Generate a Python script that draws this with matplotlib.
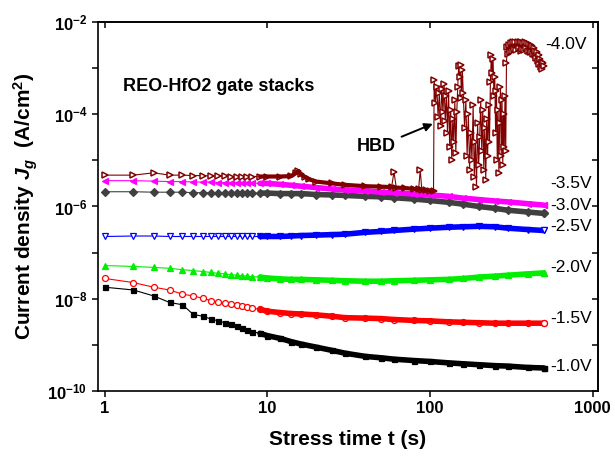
import numpy as np
import matplotlib
matplotlib.use('Agg')
import matplotlib.pyplot as plt
from matplotlib.ticker import NullLocator

plt.rcParams['font.family'] = ['Liberation Sans', 'DejaVu Sans']
plt.rcParams['mathtext.fontset'] = 'custom'
plt.rcParams['mathtext.rm'] = 'Liberation Sans:bold'
plt.rcParams['mathtext.bf'] = 'Liberation Sans:bold'
plt.rcParams['mathtext.it'] = 'Liberation Sans:italic:bold'
plt.rcParams['mathtext.default'] = 'bf'

# stress time (s), shared by the -1.0 .. -3.5 V curves
t = [1, 1.5, 2, 2.5, 3, 3.5, 4, 4.5, 5, 5.5, 6, 6.5, 7, 7.5, 8, 9, 10, 12, 14, 16,
     20, 25, 30, 40, 50, 60, 80, 100, 130, 160, 200, 250, 300, 400, 500]

# log10 of Jg (A/cm^2)
lg_10 = [-7.75, -7.81, -7.94, -8.08, -8.13, -8.34, -8.38, -8.44, -8.48, -8.52, -8.55, -8.59,
         -8.64, -8.68, -8.71, -8.75, -8.80, -8.86, -8.93, -8.98, -9.05, -9.12, -9.18, -9.25,
         -9.28, -9.31, -9.34, -9.36, -9.39, -9.41, -9.43, -9.45, -9.46, -9.49, -9.50]
lg_15 = [-7.56, -7.65, -7.75, -7.81, -7.90, -7.94, -7.99, -8.04, -8.08, -8.10, -8.11, -8.14,
         -8.16, -8.18, -8.20, -8.23, -8.27, -8.30, -8.32, -8.33, -8.35, -8.38, -8.41, -8.42,
         -8.43, -8.45, -8.47, -8.48, -8.50, -8.51, -8.52, -8.53, -8.53, -8.53, -8.53]
lg_20 = [-7.28, -7.30, -7.32, -7.34, -7.37, -7.39, -7.41, -7.43, -7.45, -7.46, -7.48, -7.49,
         -7.50, -7.51, -7.52, -7.53, -7.55, -7.57, -7.58, -7.58, -7.59, -7.60, -7.61, -7.62,
         -7.62, -7.61, -7.60, -7.59, -7.58, -7.56, -7.53, -7.51, -7.49, -7.46, -7.44]
lg_25 = [-6.65, -6.64, -6.64, -6.65, -6.65, -6.65, -6.65, -6.65, -6.65, -6.65, -6.65, -6.65,
         -6.65, -6.65, -6.65, -6.65, -6.65, -6.65, -6.64, -6.63, -6.62, -6.61, -6.60, -6.56,
         -6.54, -6.52, -6.49, -6.47, -6.45, -6.44, -6.43, -6.44, -6.47, -6.50, -6.52]
lg_30 = [-5.68, -5.68, -5.69, -5.69, -5.69, -5.70, -5.70, -5.70, -5.70, -5.70, -5.70, -5.71,
         -5.71, -5.71, -5.71, -5.71, -5.71, -5.72, -5.72, -5.72, -5.74, -5.75, -5.76, -5.78,
         -5.79, -5.81, -5.84, -5.87, -5.91, -5.95, -6.00, -6.04, -6.08, -6.12, -6.15]
lg_35 = [-5.44, -5.44, -5.45, -5.46, -5.46, -5.47, -5.47, -5.47, -5.48, -5.48, -5.48, -5.49,
         -5.49, -5.49, -5.49, -5.50, -5.50, -5.52, -5.54, -5.56, -5.59, -5.62, -5.64, -5.66,
         -5.69, -5.70, -5.73, -5.75, -5.78, -5.82, -5.85, -5.88, -5.90, -5.94, -5.97]

# -4.0 V: before hard breakdown
t_40a = [1, 1.5, 2, 2.5, 3, 3.5, 4, 4.5, 5, 5.5, 6, 6.5, 7, 7.5, 8, 9, 10, 12, 14, 15,
         15.5, 16, 17, 18, 20, 25, 30, 40, 50, 58, 60, 62, 70, 80, 85, 87, 89, 95, 100, 105]
lg_40a = [-5.32, -5.32, -5.27, -5.32, -5.32, -5.33, -5.33, -5.34, -5.34, -5.34, -5.35, -5.35,
          -5.35, -5.35, -5.35, -5.35, -5.35, -5.35, -5.34, -5.27, -5.23, -5.30, -5.36, -5.41,
          -5.46, -5.50, -5.53, -5.56, -5.57, -5.58, -5.25, -5.59, -5.60, -5.62, -5.63, -5.21,
          -5.64, -5.65, -5.66, -5.67]
# -4.0 V: after hard breakdown (noisy)
t_40b = [106, 108, 110, 112, 114, 116, 118, 120, 122, 124,
         126, 128, 130, 132, 134, 136, 138, 140, 142, 144, 146,
         148, 150, 152, 154, 156, 158, 160,
         163, 166, 169, 172, 175, 178, 181, 184, 187, 190, 193, 196, 199, 202,
         205, 208, 211, 214, 217, 220, 223, 226, 229, 232,
         235, 238, 241, 244, 247, 250,
         253, 256, 259, 262, 265, 268, 271, 274, 277, 280, 283, 286, 289,
         292, 295, 298, 301,
         305, 310, 315, 320, 325, 330, 335, 340, 345, 350, 355, 360, 365, 370,
         375, 380, 385, 390, 395, 400, 405, 410, 415, 420, 425, 430, 435, 440,
         445, 450, 455, 460, 465, 470, 475, 480, 485, 490, 495, 500]
lg_40b = [-3.26, -3.75, -3.40, -4.05, -3.55, -4.25, -3.45, -3.95, -3.35, -4.15,
          -3.60, -4.40, -3.50, -4.70, -3.90, -4.99, -4.10, -4.60, -3.70, -4.85, -3.95,
          -3.40, -2.95, -3.20, -2.93, -3.65, -3.05, -3.55,
          -4.30, -3.70, -4.90, -4.00, -5.20, -4.40, -5.00, -3.80, -5.35, -4.60, -5.58,
          -4.20, -5.10, -4.50,
          -3.70, -4.80, -3.90, -5.20, -4.30, -5.43, -4.10, -4.90, -3.80, -4.60,
          -3.30, -2.72, -3.10, -2.80, -3.60, -3.20,
          -4.40, -3.50, -5.00, -3.90, -5.27, -4.20, -3.40, -4.90, -3.70, -5.10, -4.00,
          -4.70, -3.60,
          -4.80, -2.89, -2.55, -2.70,
          -2.50, -2.65, -2.45, -2.62, -2.43, -2.58, -2.44, -2.60, -2.43, -2.57, -2.44,
          -2.62, -2.43, -2.58, -2.45, -2.60, -2.44, -2.57, -2.46, -2.62, -2.47, -2.64,
          -2.50, -2.66, -2.52, -2.70, -2.56, -2.72,
          -2.62, -2.78, -2.66, -2.84, -2.72, -2.92, -2.80, -2.98, -2.86, -3.02, -2.90, -2.96]

volt_labels = ['-1.0V', '-1.5V', '-2.0V', '-2.5V', '-3.0V', '-3.5V', '-4.0V']
xtick_vals = [1, 10, 100, 1000]
xtick_labels = ['1', '10', '100', '1000']

fig = plt.figure(figsize=(6.15, 4.57), dpi=100)
ax = fig.add_axes([0.159, 0.1444, 0.813, 0.8075])

t = np.array(t)
series = [
    (lg_10, 'black', 's', True),
    (lg_15, '#ff0000', 'o', False),
    (lg_20, '#00ee00', '^', True),
    (lg_25, '#0000ff', 'v', False),
    (lg_30, '#404040', 'D', True),
    (lg_35, '#ff00ff', '<', True),
]
for k, (lg, c, m, filled) in enumerate(series):
    j = 10.0 ** np.array(lg)
    fc = c if filled else 'white'
    ms = 3.6 if m in 'sD' else 4.3
    ax.plot(t, j, color=c, lw=0.8, marker=m, ms=ms, mfc=fc, mec=c, mew=0.9, zorder=2 + k)
    # dense sampling merges the markers into a thick band at later times
    late = t >= 9
    ax.plot(t[late], j[late], color=c, lw=4.0, solid_capstyle='round', zorder=2 + k)
    ax.plot(t[-1:], j[-1:], ls='none', marker=m, ms=ms, mfc=fc, mec=c, mew=0.9, zorder=2 + k)

maroon = '#800000'
t40 = np.concatenate([t_40a, t_40b])
j40 = 10.0 ** np.concatenate([lg_40a, lg_40b])
ax.plot(t40, j40, color=maroon, lw=0.8, marker='>', ms=4.6, mfc='white', mec=maroon,
        mew=1.1, zorder=10)
ta = np.array(t_40a)
ja = 10.0 ** np.array(lg_40a)
sel = (ta >= 9) & (ta != 60) & (ta != 87)
ax.plot(ta[sel], ja[sel], color=maroon, lw=3.0, solid_capstyle='round', zorder=10)

ax.set_xscale('log')
ax.set_yscale('log')
ax.set_xlim(0.905, 1075)
ax.set_ylim(1e-10, 1e-2)

ax.set_xticks(xtick_vals)
ax.set_xticklabels(xtick_labels, fontsize=12, fontweight='bold')
yt = [10.0 ** e for e in range(-10, -1)]
ax.set_yticks(yt)
ax.set_yticklabels(['$10^{%d}$' % e if e % 2 == 0 else '' for e in range(-10, -1)],
                   fontsize=12)
ax.xaxis.set_minor_locator(NullLocator())
ax.yaxis.set_minor_locator(NullLocator())
ax.tick_params(direction='out', length=4.5, width=1.1, pad=3)

secx = ax.secondary_xaxis('top')
secx.set_xticks(xtick_vals)
secx.set_xticklabels([])
secx.xaxis.set_minor_locator(NullLocator())
secx.tick_params(direction='in', length=4.5, width=1.1)
secy = ax.secondary_yaxis('right')
secy.set_yticks(yt)
secy.set_yticklabels([])
secy.yaxis.set_minor_locator(NullLocator())
secy.tick_params(direction='in', length=4.5, width=1.1)

for sp in list(ax.spines.values()) + [secx.spines['top'], secy.spines['right']]:
    sp.set_linewidth(1.2)

ax.set_xlabel('Stress time t (s)', fontsize=15, fontweight='bold')
ax.set_ylabel(r'Current density $\mathit{J_g}$  (A/cm$^{2}$)', fontsize=15, fontweight='bold')
ax.xaxis.set_label_coords(0.5, -0.105)
ax.yaxis.set_label_coords(-0.115, 0.5)

label_y = [0.066, 0.197, 0.335, 0.447, 0.504, 0.5626, 0.938]
for s, yy in zip(volt_labels, label_y):
    xx = 0.894 if s == '-4.0V' else 0.904
    ax.text(xx, yy, s, transform=ax.transAxes, fontsize=12.5, ha='left', va='center',
            zorder=20)

ax.text(0.05, 0.824, 'REO-HfO2 gate stacks', transform=ax.transAxes, fontsize=13,
        fontweight='bold', ha='left', va='center')
ax.annotate('HBD', xy=(104, 6.2e-5), xytext=(47, 1.95e-5), fontsize=13, fontweight='bold',
            ha='center', va='center',
            arrowprops=dict(arrowstyle='-|>', color='black', lw=1.4, mutation_scale=12,
                            shrinkA=2, shrinkB=0))

fig.savefig('out.png', dpi=100)
